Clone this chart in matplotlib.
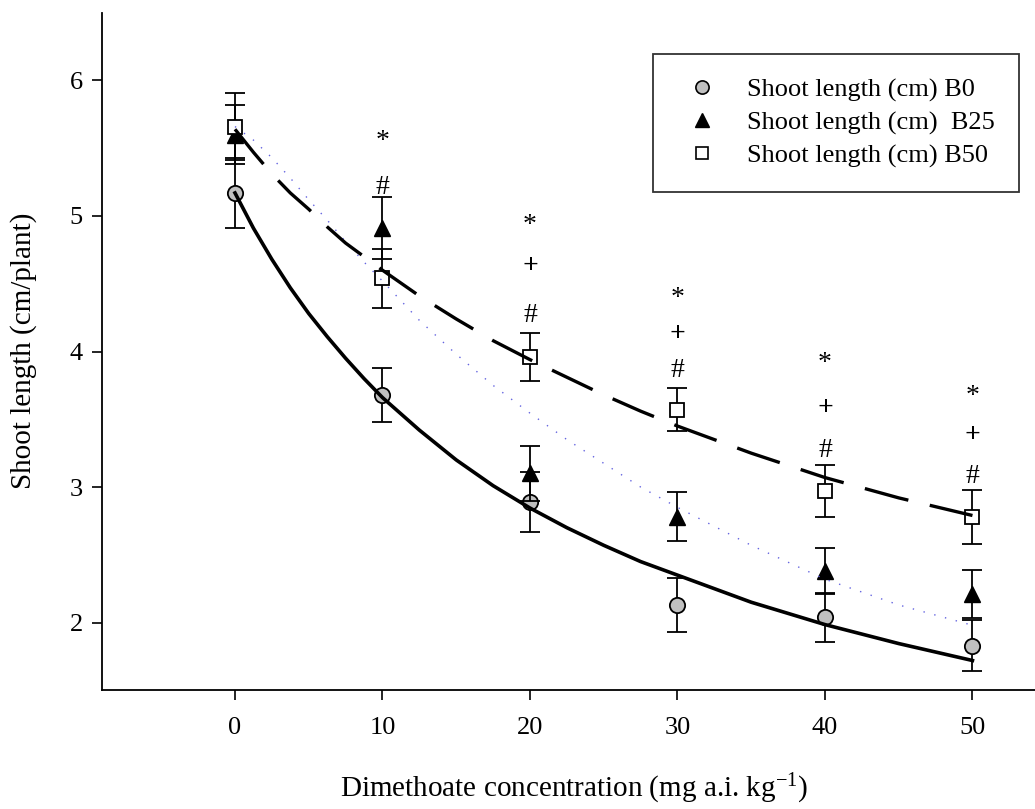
import matplotlib
matplotlib.use("Agg")
import matplotlib.pyplot as plt
from matplotlib.lines import Line2D

plt.rcParams['font.family'] = ['Liberation Serif', 'DejaVu Serif']
plt.rcParams['mathtext.default'] = 'regular'

# measured means and error bars
conc = [0, 10, 20, 30, 40, 50]
b0 = [5.17, 3.68, 2.89, 2.13, 2.04, 1.83]
b0_err = [0.26, 0.20, 0.22, 0.20, 0.18, 0.19]
b25 = [5.60, 4.91, 3.10, 2.78, 2.38, 2.21]
b25_err = [0.22, 0.23, 0.20, 0.18, 0.17, 0.18]
b50 = [5.66, 4.54, 3.96, 3.57, 2.97, 2.78]
b50_err = [0.25, 0.22, 0.18, 0.16, 0.19, 0.20]

# regression curves
curve_x = [0, 1.25, 2.5, 3.75, 5, 6.25, 7.5, 8.75, 10, 12.5, 15, 17.5, 20,
           22.5, 25, 27.5, 30, 35, 40, 45, 50]
fit_b0 = [5.17, 4.91, 4.68, 4.47, 4.28, 4.11, 3.95, 3.80, 3.66, 3.42, 3.20, 3.01, 2.845,
          2.70, 2.57, 2.45, 2.35, 2.15, 1.985, 1.845, 1.72]
fit_b25 = [5.66, 5.56, 5.43, 5.28, 5.12, 4.97, 4.81, 4.66, 4.52, 4.23, 3.98, 3.75, 3.545,
           3.35, 3.175, 3.00, 2.85, 2.57, 2.32, 2.13, 1.98]
fit_b50 = [5.64, 5.47, 5.31, 5.17, 5.05, 4.92, 4.80, 4.70, 4.60, 4.41, 4.24, 4.08, 3.94,
           3.81, 3.68, 3.56, 3.45, 3.25, 3.07, 2.92, 2.79]

# significance marks
star_x = [10, 20, 30, 40, 50]
star_y = [5.60, 4.98, 4.44, 3.96, 3.72]
plus_x = [20, 30, 40, 50]
plus_y = [4.63, 4.13, 3.58, 3.38]
hash_x = [10, 20, 30, 40, 50]
hash_y = [5.23, 4.29, 3.88, 3.29, 3.10]

fig = plt.figure(figsize=(10.35, 8.09), dpi=100)
ax = fig.add_axes([0.0988, 0.1467, 0.9012, 0.8376])

series = [
    (b0, b0_err, dict(marker='o', ms=11, mfc='#c0c0c0', mec='black', mew=1.3)),
    (b25, b25_err, dict(marker='^', ms=12, mfc='black', mec='black', mew=1.0)),
    (b50, b50_err, dict(marker='s', ms=10.5, mfc='white', mec='black', mew=1.3)),
]
z = 2
for vals, err, style in series:
    ax.errorbar(conc, vals, yerr=err, fmt='none', ecolor='black', elinewidth=1.3,
                capsize=7, capthick=1.3, zorder=z)
    ax.plot(conc, vals, linestyle='none', zorder=z + 0.5, **style)
    z += 1

ax.plot(curve_x, fit_b0, color='black', lw=2.6, zorder=6)
ax.plot(curve_x, fit_b25, color='#6464e0', lw=1.0, dashes=(1, 7), zorder=6)
ax.plot(curve_x, fit_b50, color='black', lw=2.4, dashes=(13.5, 6.6), zorder=6)

marks = [(star_x, star_y, '*', 0.48, 'normal'), (plus_x, plus_y, '+', 0.25, 'bold'),
         (hash_x, hash_y, '#', 0.34, 'normal')]
fs_mark = 20
for xs, ys, sym, off, wt in marks:
    for x, y in zip(xs, ys):
        ax.annotate(sym, (x, y), xytext=(0, -off * fs_mark), textcoords='offset points',
                    ha='center', va='baseline', fontsize=fs_mark, fontweight=wt, zorder=7)

ax.set_xlim(-9.0, 54.24)
ax.set_ylim(1.5, 6.5)
ax.set_xticks(conc)
ax.set_yticks([2, 3, 4, 5, 6])
for s in ['top', 'right']:
    ax.spines[s].set_visible(False)
for s in ['left', 'bottom']:
    ax.spines[s].set_linewidth(1.3)
ax.tick_params(direction='out', length=7, width=1.2, labelsize=19)
ax.tick_params(axis='x', pad=12)
ax.tick_params(axis='y', pad=7)

fig.text(24 / 1035, 1 - 351 / 809, 'Shoot length (cm/plant)', rotation=90,
         ha='center', va='center', fontsize=21)
fig.text(574 / 1035, 1 - 789 / 809, 'Dimethoate concentration (mg a.i. kg$^{-1}$)',
         ha='center', va='center', fontsize=21)

handles = [Line2D([], [], ls='none', marker='o', ms=9.5, mfc='#c0c0c0', mec='black', mew=1.2),
           Line2D([], [], ls='none', marker='^', ms=10, mfc='black', mec='black'),
           Line2D([], [], ls='none', marker='s', ms=9, mfc='white', mec='black', mew=1.2)]
labels = ['Shoot length (cm) B0', 'Shoot length (cm)  B25', 'Shoot length (cm) B50']
leg = ax.legend(handles, labels, loc='upper left', bbox_to_anchor=(653 / 1035, 1 - 54 / 809),
                bbox_transform=fig.transFigure, frameon=True, fancybox=False,
                edgecolor='black', borderpad=0.91, handlelength=1.89, handletextpad=0.77,
                labelspacing=0.34, borderaxespad=0, fontsize=19)
leg.get_frame().set_linewidth(1.3)

fig.savefig('out.png', dpi=100)
